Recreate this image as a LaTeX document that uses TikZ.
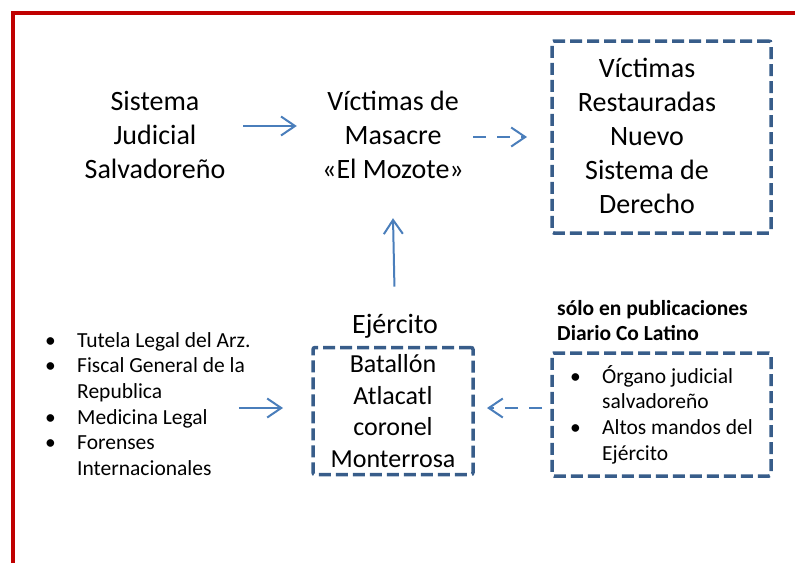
\documentclass[tikz,border=0pt]{standalone}
\usepackage{fontspec}
\setmainfont{Carlito}
\usetikzlibrary{arrows.meta}
\definecolor{rojomarco}{RGB}{192,0,0}
\definecolor{azulcaja}{RGB}{56,93,138}
\definecolor{azulflecha}{RGB}{74,126,187}
\newcommand{\letragrande}{\fontsize{28}{34}\selectfont}
\newcommand{\letramedia}{\fontsize{26}{31.7}\selectfont}
\newcommand{\letrachica}{\fontsize{21.5}{25.6}\selectfont}
\newcommand{\vineta}{\makebox[32pt][l]{\textbullet}}
\newcommand{\sangria}{\hspace*{32pt}}
\tikzset{
  texto/.style={align=flush center, inner sep=0pt, font=\letragrande},
  caja/.style={draw=azulcaja, line width=3.5pt, dash pattern=on 12pt off 5pt, rounded corners=2pt, inner sep=0pt, outer sep=0pt},
  flecha/.style={draw=azulflecha, line width=2pt, -{Straight Barb[length=14pt,width=19pt]}},
  flechadash/.style={flecha, dash pattern=on 13pt off 11pt},
}

\begin{document}
\begin{tikzpicture}[x=1pt,y=-1pt]
        \useasboundingbox (0,0) rectangle (795,563);
        \draw[rojomarco, line width=4pt] (12.5,563) -- (12.5,12.5) -- (795,12.5); % marco
        \node[texto, text width=142pt] (sistema) at (155,135) {Sistema\\Judicial\\Salvadoreño};
        \node[texto, text width=160pt, minimum height=166pt] (victimas) at (393,135) {Víctimas de\\Masacre\\«El Mozote»};
        \node[caja, minimum width=219pt, minimum height=192pt] (restauradas) at (661.5,137) {};
        \node[texto] (restauradastexto) at (647,136) {Víctimas\\Restauradas\\Nuevo\\Sistema de\\Derecho};
        \node[texto, anchor=base] (ejercito) at (395,333) {Ejército};
        \node[caja, texto, font=\letramedia, minimum width=160pt, minimum height=127pt] (batallon) at (393,411) {Batallón\\Atlacatl\\coronel\\Monterrosa};
        \node[texto, font=\letrachica, align=flush left, anchor=west] (lista) at (45,404) {\vineta Tutela Legal del Arz.\\\vineta Fiscal General de la\\\sangria Republica\\\vineta Medicina Legal\\\vineta Forenses\\\sangria Internacionales};
        \node[texto, font=\letrachica\bfseries, align=flush left, anchor=west] (nota) at (557,320.5) {sólo en publicaciones\\Diario Co Latino};
        \node[caja, texto, font=\letrachica, align=flush left, minimum width=219pt, minimum height=123pt] (fuentes) at (661.5,414.5) {\vineta Órgano judicial\\\sangria salvadoreño\\\vineta Altos mandos del\\\sangria Ejército};
        \draw[flecha, shorten <=17pt, shorten >=16pt] ([yshift=9pt]sistema.east) -- ([yshift=9pt]victimas.west);
        \draw[flechadash, shorten <=0pt, shorten >=25pt] ([yshift=-2pt]victimas.east) -- ([yshift=-2pt]victimas.east -| restauradas.west);
        \draw[flecha, shorten <=27pt] (ejercito.north) -- (victimas.south);
        \draw[flecha, shorten >=18pt] ([xshift=-12pt,yshift=-4pt]lista.east) -- ([xshift=-12pt,yshift=-4pt]lista.east -| batallon.west);
        \draw[flechadash, shorten <=10pt, shorten >=14pt] ([yshift=6.5pt]fuentes.west) -- ([yshift=6.5pt]fuentes.west -| batallon.east);
    \end{tikzpicture}
\end{document}
